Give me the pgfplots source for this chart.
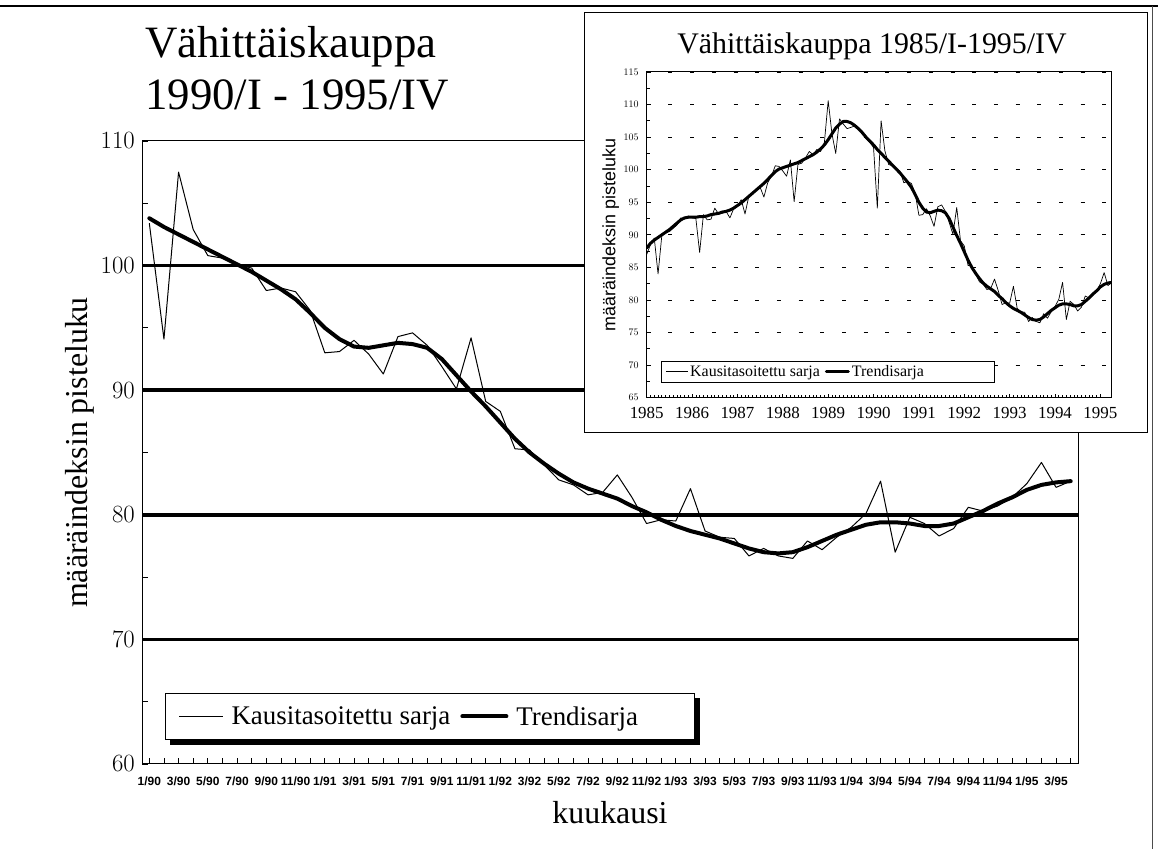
\documentclass[border=0pt]{standalone}
\usepackage{fontspec}
\setmainfont{Liberation Serif}
\setsansfont{Liberation Sans}
\usepackage{pgfplots}
\pgfplotsset{compat=1.18}
\usepackage{pgfplotstable}

\pgfplotstableread{
i raw trend
0 103.4 103.8
1 94.1 103.1
2 107.5 102.5
3 102.9 101.9
4 100.8 101.3
5 100.6 100.7
6 100.1 100.1
7 99.8 99.5
8 98.0 98.8
9 98.2 98.1
10 97.9 97.3
11 96.4 96.2
12 93.0 95.0
13 93.1 94.1
14 94.0 93.5
15 92.9 93.4
16 91.3 93.6
17 94.3 93.8
18 94.6 93.7
19 93.6 93.4
20 91.9 92.5
21 90.1 91.2
22 94.2 89.9
23 89.1 88.7
24 88.3 87.4
25 85.3 86.1
26 85.2 85.0
27 84.0 84.1
28 82.8 83.3
29 82.4 82.6
30 81.6 82.1
31 81.8 81.7
32 83.2 81.3
33 81.4 80.7
34 79.3 80.2
35 79.6 79.6
36 79.5 79.1
37 82.1 78.7
38 78.7 78.4
39 78.2 78.1
40 78.1 77.7
41 76.7 77.3
42 77.3 77.0
43 76.7 76.9
44 76.5 77.0
45 77.9 77.4
46 77.2 77.9
47 78.2 78.4
48 79.0 78.8
49 80.1 79.2
50 82.7 79.4
51 77.0 79.4
52 79.8 79.3
53 79.3 79.1
54 78.3 79.1
55 78.9 79.3
56 80.6 79.8
57 80.3 80.3
58 80.7 80.9
59 81.4 81.4
60 82.5 82.0
61 84.2 82.4
62 82.2 82.6
63 82.7 82.7
}\maindata

\pgfplotstableread{
m raw trend
0 87.0 88.0
1 88.5 88.7
2 89.5 89.2
3 84.0 89.6
4 89.9 90.0
5 90.3 90.4
6 90.5 90.8
7 91.0 91.3
8 91.5 91.8
9 92.6 92.3
10 92.4 92.6
11 92.9 92.7
12 92.6 92.7
13 92.5 92.7
14 87.3 92.8
15 93.1 92.8
16 92.3 92.9
17 92.4 93.1
18 94.1 93.2
19 93.2 93.3
20 93.3 93.5
21 93.6 93.6
22 92.6 93.8
23 94.0 94.1
24 94.4 94.5
25 95.4 94.9
26 93.2 95.4
27 95.9 95.9
28 96.3 96.4
29 97.0 96.9
30 97.3 97.4
31 95.8 97.9
32 98.0 98.5
33 99.0 99.1
34 100.6 99.7
35 100.5 100.1
36 99.8 100.3
37 99.0 100.5
38 101.5 100.7
39 95.1 100.9
40 100.8 101.1
41 101.0 101.4
42 101.8 101.7
43 102.8 102.0
44 102.3 102.3
45 103.1 102.7
46 102.8 103.2
47 104.2 103.8
48 110.6 104.6
49 105.5 105.5
50 102.5 106.4
51 107.8 107.0
52 107.0 107.4
53 106.3 107.4
54 106.5 107.2
55 106.7 106.8
56 106.2 106.3
57 105.9 105.7
58 104.8 105.0
59 104.2 104.4
60 103.4 103.8
61 94.1 103.1
62 107.5 102.5
63 102.9 101.9
64 100.8 101.3
65 100.6 100.7
66 100.1 100.1
67 99.8 99.5
68 98.0 98.8
69 98.2 98.1
70 97.9 97.3
71 96.4 96.2
72 93.0 95.0
73 93.1 94.1
74 94.0 93.5
75 92.9 93.4
76 91.3 93.6
77 94.3 93.8
78 94.6 93.7
79 93.6 93.4
80 91.9 92.5
81 90.1 91.2
82 94.2 89.9
83 89.1 88.7
84 88.3 87.4
85 85.3 86.1
86 85.2 85.0
87 84.0 84.1
88 82.8 83.3
89 82.4 82.6
90 81.6 82.1
91 81.8 81.7
92 83.2 81.3
93 81.4 80.7
94 79.3 80.2
95 79.6 79.6
96 79.5 79.1
97 82.1 78.7
98 78.7 78.4
99 78.2 78.1
100 78.1 77.7
101 76.7 77.3
102 77.3 77.0
103 76.7 76.9
104 76.5 77.0
105 77.9 77.4
106 77.2 77.9
107 78.2 78.4
108 79.0 78.8
109 80.1 79.2
110 82.7 79.4
111 77.0 79.4
112 79.8 79.3
113 79.3 79.1
114 78.3 79.1
115 78.9 79.3
116 80.6 79.8
117 80.3 80.3
118 80.7 80.9
119 81.4 81.4
120 82.5 82.0
121 84.2 82.4
122 82.2 82.6
123 82.7 82.7
}\insetdata

\begin{document}
\begin{tikzpicture}[x=1bp,y=1bp]
\useasboundingbox (0,0) rectangle (1158,849);
% page frame
\draw[line width=1.5bp] (0,843) -- (1158,843);
\draw[line width=0.8bp, black!70] (1152,843) -- (1152,0);

% main title
\node[anchor=base west, font=\fontsize{45}{45}\selectfont, inner sep=0pt] at (145,791) {Vähittäiskauppa};
\node[anchor=base west, font=\fontsize{45}{45}\selectfont, inner sep=0pt] at (145,739) {1990/I - 1995/IV};

\begin{axis}[
  at={(142bp,85bp)}, anchor=south west,
  width=936bp, height=623bp, scale only axis,
  xmin=-0.5, xmax=63.5, ymin=60, ymax=110,
  ytick={60,70,...,110}, minor ytick={65,75,...,105},
  xtick={0,2,...,62},
  xticklabels={1/90,3/90,5/90,7/90,9/90,11/90,1/91,3/91,5/91,7/91,9/91,11/91,1/92,3/92,5/92,7/92,9/92,11/92,1/93,3/93,5/93,7/93,9/93,11/93,1/94,3/94,5/94,7/94,9/94,11/94,1/95,3/95},
  minor xtick={1,3,...,63},
  tick align=inside, tick pos=left,
  major tick length=6bp, minor tick length=6bp,
  tick style={black, line width=0.8bp},
  axis line style={line width=1bp},
  x tick label style={font=\sffamily\bfseries\fontsize{12}{12}\selectfont, inner sep=0pt, anchor=north, yshift=-13bp},
  y tick label style={font=\fontsize{24}{24}\selectfont, inner sep=0pt, anchor=east, xshift=-7bp},
  extra y ticks={70,80,90,100}, extra y tick labels={},
  extra y tick style={ymajorgrids=true, major grid style={black, line width=3.5bp}},
  xlabel={kuukausi}, ylabel={määräindeksin pisteluku},
  xlabel style={font=\fontsize{32}{32}\selectfont, at={(axis description cs:0.5,-0.0787)}, anchor=center},
  ylabel style={font=\fontsize{32}{32}\selectfont, at={(axis description cs:-0.0662,0.5)}, anchor=center},
  legend style={name=mainleg, at={(axis description cs:0.0246,0.0385)}, anchor=south west, draw=black, line width=1bp, fill=white,
    font=\fontsize{27}{27}\selectfont, inner xsep=13bp, inner ysep=13bp, nodes={inner sep=0pt},
    /tikz/every even column/.append style={column sep=10bp},
    /tikz/every odd column/.append style={column sep=8bp}},
  legend columns=2, legend cell align=left,
  legend image code/.code={\draw[#1] (0bp,0bp) -- (44bp,0bp);},
]
\addplot[black, line width=1bp, line join=round] table[x=i, y=raw] {\maindata};
\addlegendentry{Kausitasoitettu sarja}
\addplot[black, line width=4bp, line join=round, line cap=round] table[x=i, y=trend] {\maindata};
\addlegendentry{\makebox[165bp][l]{Trendisarja}}
\end{axis}
% legend shadow
\fill[black] ([xshift=5bp]mainleg.south west) rectangle ([xshift=5bp,yshift=-5bp]mainleg.south east);
\fill[black] ([yshift=-5bp]mainleg.north east) rectangle ([xshift=5bp]mainleg.south east);

% inset frame
\draw[fill=white, line width=1bp] (584,416) rectangle (1147,836);
\node[anchor=base, font=\fontsize{30}{30}\selectfont, inner sep=0pt] at (872,795) {Vähittäiskauppa 1985/I-1995/IV};

\begin{axis}[
  at={(646.7bp,451.3bp)}, anchor=south west,
  width=465bp, height=325.7bp, scale only axis,
  xmin=0, xmax=123, ymin=65, ymax=115,
  xtick={0,12,...,120}, xticklabels={1985,1986,1987,1988,1989,1990,1991,1992,1993,1994,1995},
  minor x tick num=11,
  ytick={65,70,...,115}, minor y tick num=1,
  tick align=inside, tick pos=left,
  major tick length=4bp, minor tick length=3bp,
  tick style={black, line width=0.7bp},
  axis line style={line width=1bp},
  ymajorgrids, major grid style={black, line width=0.9bp, dash pattern=on 4bp off 17.7bp},
  x tick label style={font=\fontsize{17}{17}\selectfont, inner sep=0pt, anchor=north, yshift=-9bp},
  y tick label style={font=\bfseries\fontsize{10}{10}\selectfont, inner sep=0pt, anchor=east, xshift=-8bp},
  ylabel={määräindeksin pisteluku},
  ylabel style={font=\sffamily\fontsize{18}{18}\selectfont, at={(axis description cs:-0.0774,0.5)}, anchor=center},
  legend style={at={(axis description cs:0.031,0.047)}, anchor=south west, draw=black, line width=0.8bp, fill=white,
    font=\fontsize{16}{16}\selectfont, inner xsep=4bp, inner ysep=4bp, nodes={inner sep=0pt},
    /tikz/every even column/.append style={column sep=5bp},
    /tikz/every odd column/.append style={column sep=2bp}},
  legend columns=2, legend cell align=left,
  legend image code/.code={\draw[#1] (0bp,0bp) -- (22bp,0bp);},
]
\addplot[black, line width=0.7bp, line join=round] table[x=m, y=raw] {\insetdata};
\addlegendentry{Kausitasoitettu sarja}
\addplot[black, line width=3bp, line join=round, line cap=round] table[x=m, y=trend] {\insetdata};
\addlegendentry{\makebox[138bp][l]{Trendisarja}}
\end{axis}
\end{tikzpicture}
\end{document}
